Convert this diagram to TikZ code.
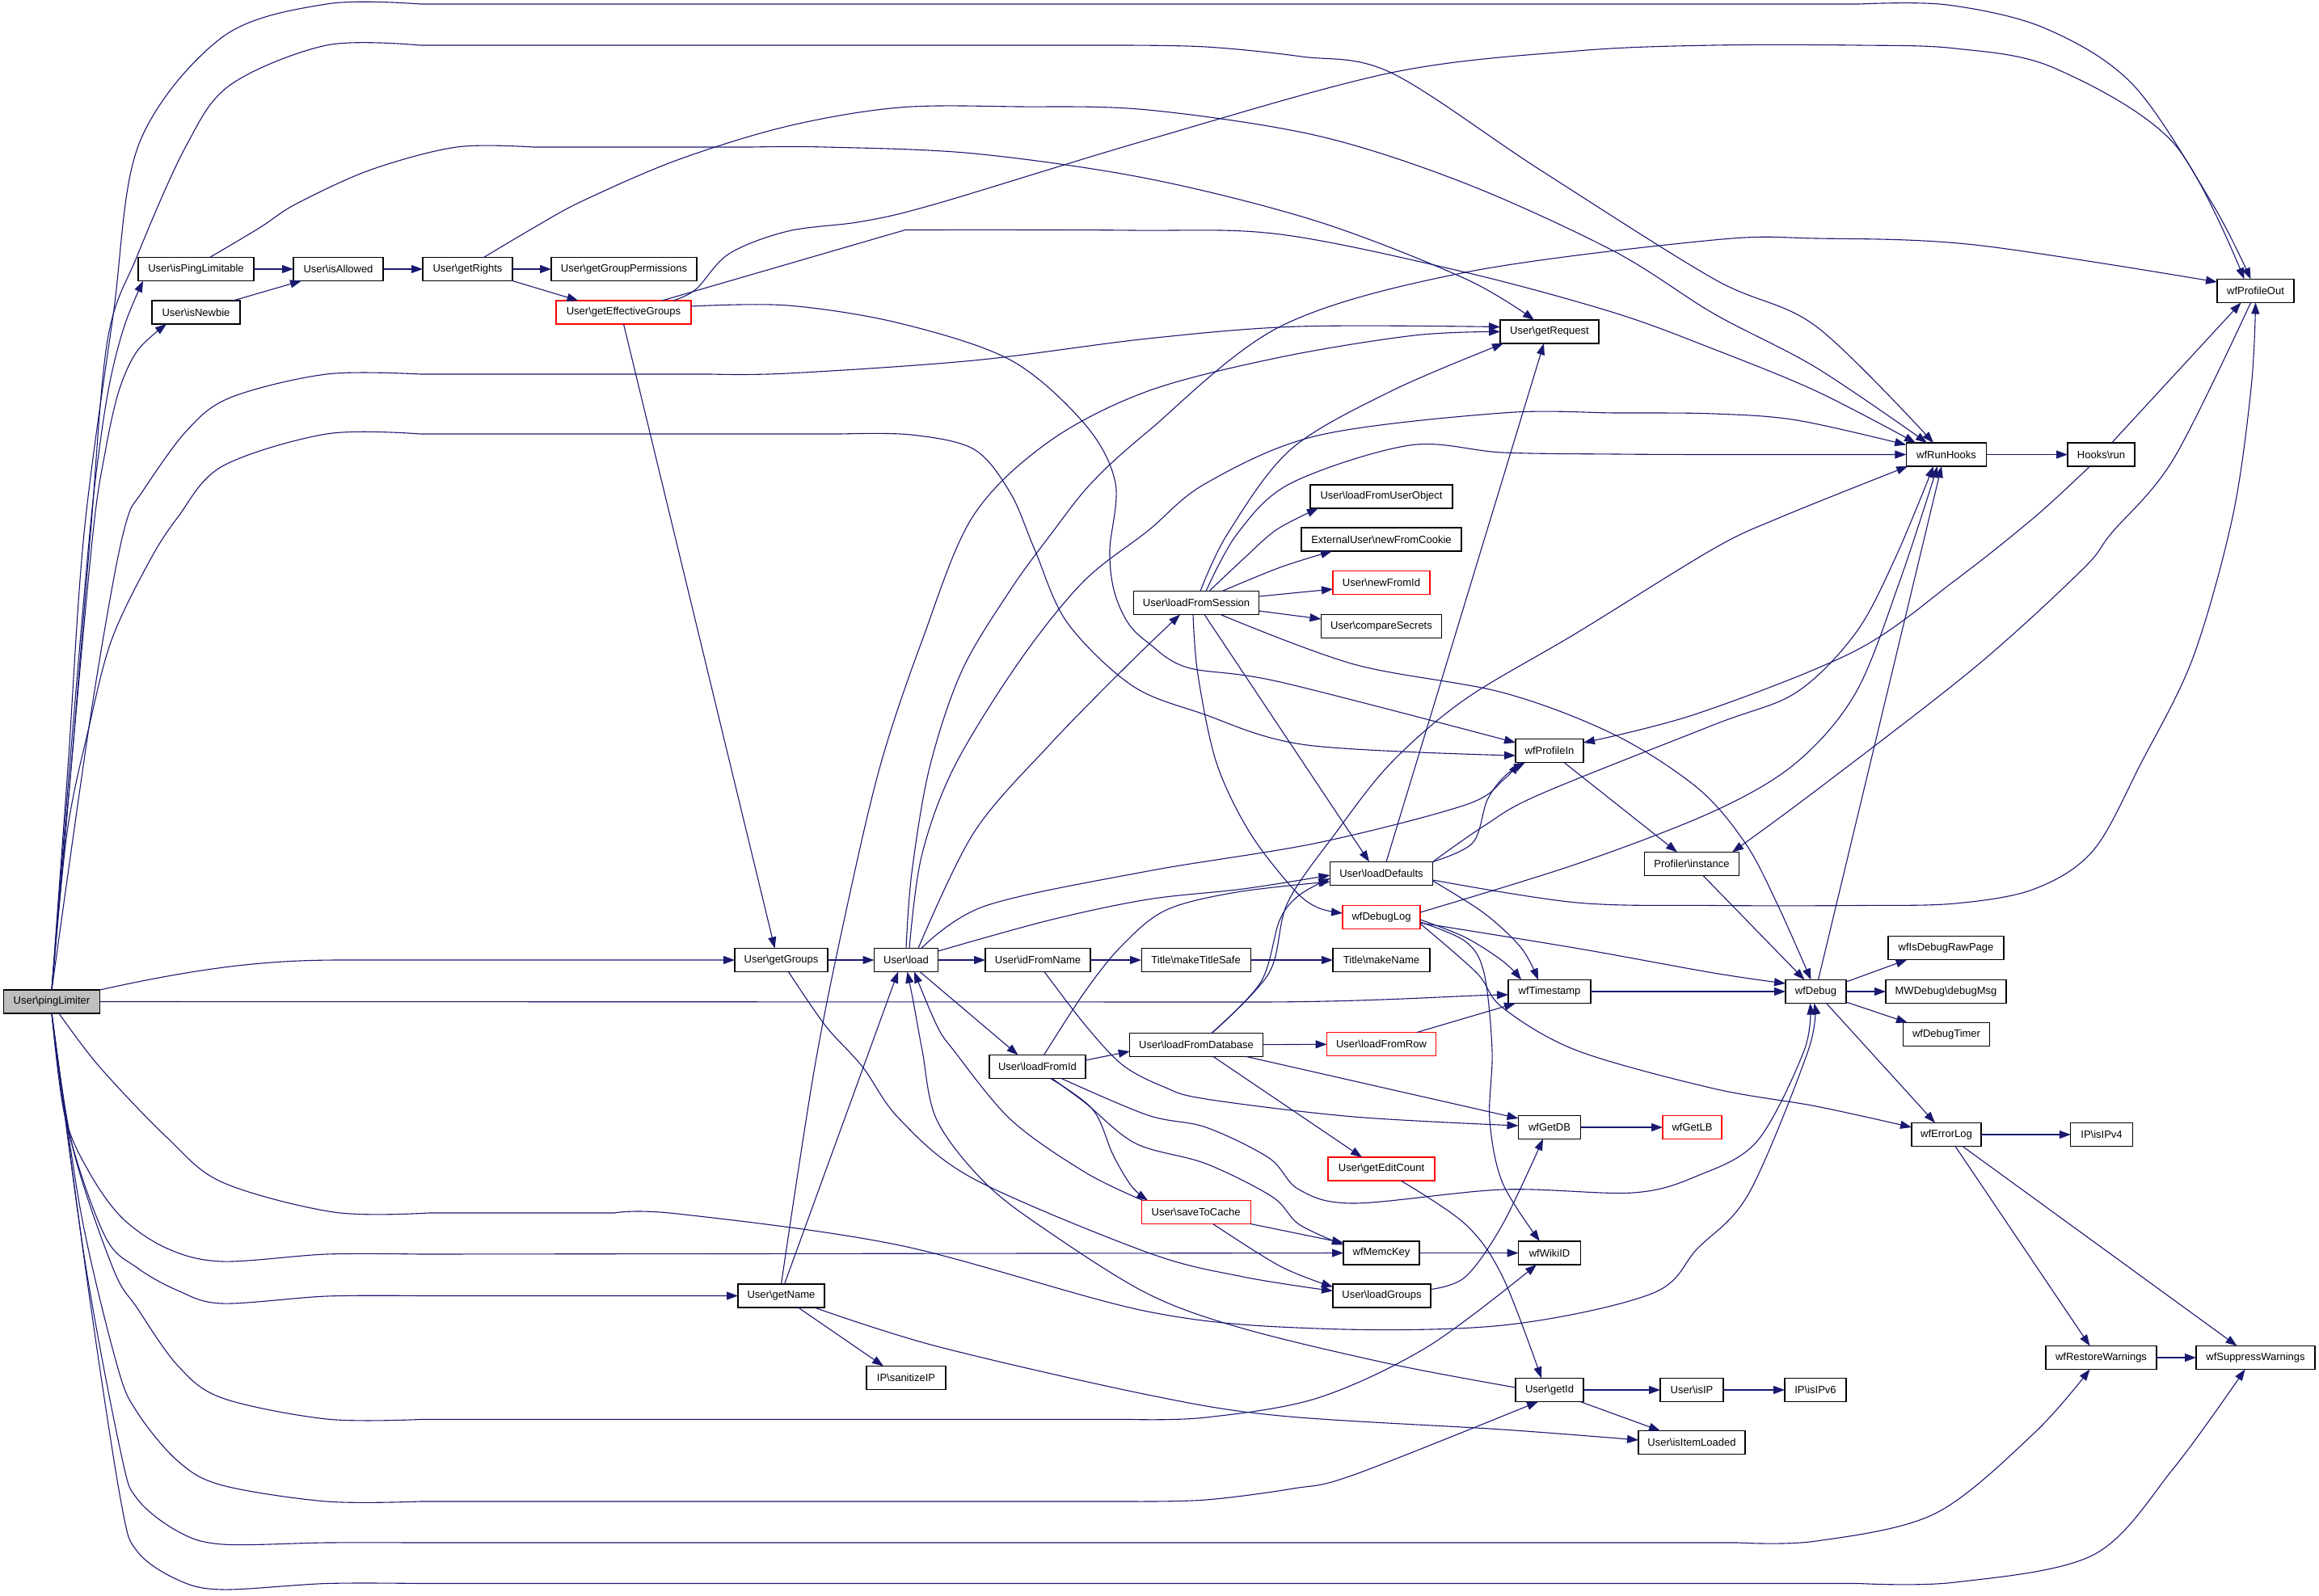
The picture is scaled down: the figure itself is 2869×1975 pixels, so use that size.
\documentclass[tikz,border=0pt]{standalone}
\usepackage{fontspec}
\setmainfont{Liberation Sans}
\usetikzlibrary{arrows.meta}
\definecolor{edgec}{HTML}{191970}
\definecolor{plgray}{HTML}{BFBFBF}
\newcommand{\bsl}{\textbackslash}
\begin{document}
\begin{tikzpicture}[x=0.5pt,y=-0.5pt,
  nd/.style={draw=black,fill=white,line width=0.6pt,minimum height=14.5pt,inner sep=0pt,outer sep=0pt,font=\fontsize{6.5pt}{7.5pt}\selectfont},
  rnd/.style={nd,draw=red},
  cn/.style={draw=edgec,line width=0.55pt,-{Triangle[length=7pt,width=5pt]}},
  sm/.style={smooth,tension=0.55}]
\useasboundingbox (0,0) rectangle (2869,1975);
\fill[white] (0,0) rectangle (2869,1975);
% nodes
\node[nd,fill=plgray,minimum width=59.25pt] (PL) at (64,1239.5) {User\bsl pingLimiter};
\node[nd,minimum width=71.5pt] (ipl) at (242.5,333) {User\bsl isPingLimitable};
\node[nd,minimum width=54.5pt] (inb) at (242.5,386.5) {User\bsl isNewbie};
\node[nd,minimum width=55.5pt] (ial) at (418.5,333) {User\bsl isAllowed};
\node[nd,minimum width=55.5pt] (gri) at (578.5,333) {User\bsl getRights};
\node[nd,minimum width=90pt] (ggp) at (772,333) {User\bsl getGroupPermissions};
\node[rnd,minimum width=83.5pt] (geg) at (771.5,386.5) {User\bsl getEffectiveGroups};
\node[nd,minimum width=61pt] (grq) at (1917,410.5) {User\bsl getRequest};
\node[nd,minimum width=88pt] (lfuo) at (1709,614.5) {User\bsl loadFromUserObject};
\node[nd,minimum width=99pt] (nfc) at (1709,667.5) {ExternalUser\bsl newFromCookie};
\node[rnd,minimum width=60pt] (nfi) at (1709,721) {User\bsl newFromId};
\node[nd,minimum width=77.75pt] (lfs) at (1480,746) {User\bsl loadFromSession};
\node[nd,minimum width=74.5pt] (cs) at (1709,775) {User\bsl compareSecrets};
\node[nd,minimum width=42pt] (wpi) at (1917,929) {wfProfileIn};
\node[nd,minimum width=58.25pt] (pin) at (2093,1069) {Profiler\bsl instance};
\node[nd,minimum width=63.5pt] (ld) at (1709,1081) {User\bsl loadDefaults};
\node[rnd,minimum width=48pt] (wdl) at (1709,1135) {wfDebugLog};
\node[nd,minimum width=67.5pt] (mts) at (1479.6,1188) {Title\bsl makeTitleSafe};
\node[nd,minimum width=60pt] (mn) at (1709,1188) {Title\bsl makeName};
\node[nd,minimum width=51pt] (wts) at (1917,1227) {wfTimestamp};
\node[nd,minimum width=82.25pt] (lfd) at (1480,1293) {User\bsl loadFromDatabase};
\node[rnd,minimum width=67.5pt] (lfr) at (1709,1292) {User\bsl loadFromRow};
\node[nd,minimum width=71.5pt] (wid) at (2407.5,1173) {wfIsDebugRawPage};
\node[nd,minimum width=74.5pt] (dm) at (2407.5,1227) {MWDebug\bsl debugMsg};
\node[nd,minimum width=53.5pt] (wdt) at (2408,1280) {wfDebugTimer};
\node[nd,minimum width=37.5pt] (wd) at (2246.5,1227) {wfDebug};
\node[nd,minimum width=47.5pt] (wpo) at (2790.5,360) {wfProfileOut};
\node[nd,minimum width=49.75pt] (wrh) at (2408,562.5) {wfRunHooks};
\node[nd,minimum width=41.5pt] (hr) at (2599.5,562.5) {Hooks\bsl run};
\node[nd,minimum width=57.5pt] (gg) at (966.5,1188) {User\bsl getGroups};
\node[nd,minimum width=39.5pt] (lo) at (1121,1188) {User\bsl load};
\node[nd,minimum width=65pt] (ifn) at (1284,1188) {User\bsl idFromName};
\node[nd,minimum width=59.5pt] (lfi) at (1283.5,1320) {User\bsl loadFromId};
\node[nd,minimum width=53.5pt] (gn) at (966.5,1603.5) {User\bsl getName};
\node[nd,minimum width=49pt] (sip) at (1121,1705) {IP\bsl sanitizeIP};
\node[nd,minimum width=38.5pt] (gdb) at (1917,1395) {wfGetDB};
\node[rnd,minimum width=36.5pt] (glb) at (2093.5,1395) {wfGetLB};
\node[rnd,minimum width=66pt] (gec) at (1709,1446.5) {User\bsl getEditCount};
\node[rnd,minimum width=67.5pt] (stc) at (1479.6,1500) {User\bsl saveToCache};
\node[nd,minimum width=47pt] (wmk) at (1709,1550.5) {wfMemcKey};
\node[nd,minimum width=38.5pt] (wwi) at (1917,1550.5) {wfWikiID};
\node[nd,minimum width=60.5pt] (lg) at (1709.5,1603.5) {User\bsl loadGroups};
\node[nd,minimum width=42pt] (gid) at (1917,1720) {User\bsl getId};
\node[nd,minimum width=39pt] (iip) at (2093,1720) {User\bsl isIP};
\node[nd,minimum width=66pt] (iil) at (2093,1785) {User\bsl isItemLoaded};
\node[nd,minimum width=43pt] (wel) at (2408,1404) {wfErrorLog};
\node[nd,minimum width=38.25pt] (ip4) at (2600,1404) {IP\bsl isIPv4};
\node[nd,minimum width=68.5pt] (wrw) at (2599.5,1680) {wfRestoreWarnings};
\node[nd,minimum width=73.5pt] (wsw) at (2790.5,1680) {wfSuppressWarnings};
\node[nd,minimum width=38pt] (ip6) at (2246,1720) {IP\bsl isIPv6};
% edges from pingLimiter
\draw[cn] plot[sm] coordinates {(PL.north) (84,950) (104,660) (140,390) (172,178) (275,46) (404,5) (520,5)} -- (2300,5) --plot[sm] coordinates {(2300,5) (2409,6) (2530,35) (2639,105) (2737,252) ([xshift=-3pt]wpo.north)};
\draw[cn] plot[sm] coordinates {(PL.north) (88,950) (112,660) (133,421) (170,316) (230,181) (285,105) (404,56) (520,56)} -- (1380,56) --plot[sm] coordinates {(1380,56) (1492,58) (1610,70) (1721,90) (1905,210) (2120,345) (2247,404) ([xshift=-8pt]wrh.north)};
\draw[cn] plot[sm] coordinates {(PL.north) (86,950) (111,660) (125,540) (138,463) (155,400) ([xshift=3pt]ipl.south west)};
\draw[cn] plot[sm] coordinates {(PL.north) (88,950) (115,660) (130,560) (147,484) (170,434) ([xshift=9pt]inb.south west)};
\draw[cn] plot[sm] coordinates {(PL.north) (110,900) (140,720) (158,640) (175,610) (230,534) (285,492) (404,463) (520,463)} -- (880,463) --plot[sm] coordinates {(880,463) (975,462) (1205,446) (1420,419) (1607,404) ([yshift=3pt]grq.west)};
\draw[cn] plot[sm] coordinates {(PL.north) (83,1030) (110,900) (138,792) (184,696) (220,640) (275,577) (404,537) (520,537)} -- (1040,537) --plot[sm] coordinates {(1040,537) (1127,538) (1205,556) (1250,610) (1280,680) (1320,770) (1400,848) (1487,883) (1617,922) ([yshift=-3pt]wpi.west)};
\draw[cn] (PL.north east) .. controls (250,1197) and (330,1188) .. (420,1188) -- (gg.west);
\draw[cn] (PL.east) -- (1550,1240) .. controls (1700,1240) and (1800,1232) .. ([yshift=-2pt]wts.west);
\draw[cn] plot[sm] coordinates {([xshift=4.5pt]PL.south) (123,1320) (206,1407) (275,1463) (413,1500) (530,1501)} -- (760,1501) --plot[sm] coordinates {(760,1501) (838,1502) (1113,1541) (1420,1623) (1630,1644) (1859,1640) (2043,1601) (2100,1545) (2164,1476) (2237,1300) ([xshift=-1pt]wd.south)};
\draw[cn] plot[sm] coordinates {(PL.south) (80,1380) (110,1450) (151,1507) (207,1545) (275,1561) (404,1552) (520,1552)} -- (wmk.west);
\draw[cn] plot[sm] coordinates {(PL.south) (85,1400) (130,1530) (170,1569) (220,1597) (275,1613) (404,1604) (520,1603.5)} -- (gn.west);
\draw[cn] plot[sm] coordinates {(PL.south) (90,1420) (140,1570) (170,1619) (220,1690) (275,1730) (404,1756) (520,1756.5)} -- (1400,1756.5) --plot[sm] coordinates {(1400,1756.5) (1492,1754) (1630,1730) (1767,1666) ([xshift=-8pt]wwi.south)};
\draw[cn] plot[sm] coordinates {(PL.south) (100,1500) (145,1690) (170,1748) (220,1808) (275,1838) (404,1858) (520,1858)} -- (1400,1858) --plot[sm] coordinates {(1400,1858) (1492,1856) (1600,1842) (1675,1825) ([xshift=-7pt]gid.south)};
\draw[cn] plot[sm] coordinates {(PL.south) (105,1560) (150,1800) (170,1855) (220,1895) (275,1911) (404,1909) (520,1909)} -- (2150,1909) --plot[sm] coordinates {(2150,1909) (2247,1907) (2394,1873) (2517,1773) ([xshift=-7pt]wrw.south)};
\draw[cn] plot[sm] coordinates {(PL.south) (110,1600) (150,1860) (170,1920) (220,1955) (275,1967) (404,1959.5) (520,1959.5)} -- (2300,1959.5) --plot[sm] coordinates {(2300,1959.5) (2419,1958) (2590,1924) (2689,1817) ([xshift=-6.5pt]wsw.south)};
% upper left group
\draw[cn] (ipl) -- (ial);
\draw[cn] plot[sm] coordinates {([xshift=8.5pt]ipl.north) (321,282) (367,252) (459,210) (565,182) (660,182)} -- (930,182) --plot[sm] coordinates {(930,182) (1021,182) (1205,190) (1420,221) (1630,274) (1813,345) ([xshift=-9.5pt]grq.north)};
\draw[cn] ([xshift=23pt]inb.north) -- ([xshift=5pt]ial.south west);
\draw[cn] (ial) -- (gri);
\draw[cn] (gri) -- (ggp);
\draw[cn] (gri.south east) -- ([xshift=-28pt]geg.north);
\draw[cn] plot[sm] coordinates {([xshift=10pt]gri.north) (660,282) (720,249) (838,198) (975,156) (1113,133) (1260,132) (1420,136) (1630,168) (1813,227) (1997,311) (2120,388) (2247,455) ([xshift=-12pt]wrh.north)};
\draw[cn] plot[sm] coordinates {([xshift=30.75pt]geg.north) (861,358) (902,314) (975,286) (1067,274) (1159,252) (1420,173) (1721,90) (1951,63) (2120,56) (2300,56) (2419,60) (2541,84) (2689,177) ([xshift=-7pt]wpo.north)};
\draw[cn] ([xshift=23.75pt]geg.north) -- (1120,284.5) --plot[sm] coordinates {(1120,284.5) (1400,285) (1584,290) (1813,337) (1997,387) (2120,432) (2247,484) ([xshift=-19pt]wrh.north)};
\draw[cn] (geg.south) -- ([xshift=-4pt]gg.north);
\draw[cn] plot[sm] coordinates {([yshift=3.75pt]geg.east) (975,378) (1113,400) (1251,446) (1343,526) (1380,598) (1373,680) (1378,730) (1395,770) (1420,795) (1469,826) (1584,844) ([yshift=5pt]wpi.west)};
% getGroups, getName, load
\draw[cn] (gg) -- (lo);
\draw[cn] plot[sm] coordinates {([xshift=4.5pt]gg.south) (1021,1269) (1067,1320) (1113,1385) (1205,1459) (1420,1550) (1538,1580) ([yshift=3pt]lg.west)};
\draw[cn] ([xshift=2pt]gn.north) -- ([xshift=-5pt]lo.south);
\draw[cn] plot[sm] coordinates {(gn.north) (1008,1320) (1049,1117) (1090,944) (1141,792) (1203,640) (1297,547) (1420,484) (1584,442) (1750,415) (grq.west)};
\draw[cn] ([xshift=10.5pt]gn.south) -- ([xshift=-14pt]sip.north);
\draw[cn] plot[sm] coordinates {([xshift=20.5pt]gn.south) (1159,1666) (1420,1726) (1584,1752) (1859,1769) ([yshift=1.5pt]iil.west)};
\draw[cn] (lo) -- (ifn);
\draw[cn] ([xshift=8.5pt]lo.south) -- ([xshift=-12pt]lfi.north);
\draw[cn] plot[sm] coordinates {([xshift=7.5pt]lo.north) (1205,1030) (1300,920) (1400,818) ([xshift=-10pt]lfs.south)};
\draw[cn] plot[sm] coordinates {([xshift=9.5pt]lo.north) (1219,1121) (1420,1078) (1630,1043) (1813,996) (1860,965) ([xshift=-19pt]wpi.south)};
\draw[cn] plot[sm] coordinates {([yshift=5.5pt]lo.east) (1297,1139) (1420,1113) (1538,1100) ([yshift=-1pt]ld.west)};
\draw[cn] plot[sm] coordinates {([xshift=2pt]lo.north) (1140,1060) (1180,950) (1260,820) (1340,720) (1420,657) (1492,598) (1630,539) (1859,511) (2000,511) (2120,512) (2223,520) ([yshift=6pt]wrh.west)};
\draw[cn] plot[sm] coordinates {(lo.north) (1128,1080) (1150,950) (1190,830) (1250,730) (1301,660) (1350,598) (1420,534) (1584,404) (1813,337) (2120,297) (2247,295) (2443,303) ([yshift=5.5pt]wpo.west)};
\draw[cn] (ifn) -- (mts);
\draw[cn] plot[sm] coordinates {([xshift=4pt]ifn.south) (1343,1269) (1389,1318) (1440,1345) (1492,1360) (1675,1382) ([yshift=1pt]gdb.west)};
\draw[cn] (mts) -- (mn);
% loadFromId
\draw[cn] ([yshift=4pt]lfi.east) -- ([yshift=-4pt]lfd.west);
\draw[cn] plot[sm] coordinates {([xshift=4pt]lfi.north) (1343,1226) (1389,1169) (1443,1126) (1530,1104) ([yshift=-5pt]ld.west)};
\draw[cn] plot[sm] coordinates {([xshift=8pt]lfi.south) (1352,1373) (1377,1429) (1400,1468) ([xshift=4pt]stc.north west)};
\draw[cn] plot[sm] coordinates {([xshift=9pt]lfi.south) (1343,1365) (1405,1415) (1492,1440) (1574,1481) (1607,1515) ([yshift=5pt]wmk.west)};
\draw[cn] plot[sm] coordinates {([xshift=14.75pt]lfi.south) (1420,1380) (1492,1395) (1570,1433) (1607,1472) (1675,1489) (1859,1472) (2020,1476) (2100,1455) (2174,1412) (2232,1300) ([xshift=-3.5pt]wd.south)};
% loadFromSession
\draw[cn] plot[sm] coordinates {([xshift=8pt]lfs.north) (1540,690) (1580,655) ([xshift=-39pt]lfuo.south)};
\draw[cn] plot[sm] coordinates {([xshift=16pt]lfs.north) (1584,702) ([xshift=-30.5pt]nfc.south)};
\draw[cn] ([yshift=4pt]lfs.east) -- ([yshift=-4pt]nfi.west);
\draw[cn] ([yshift=-5pt]lfs.east) -- ([yshift=4.5pt]cs.west);
\draw[cn] plot[sm] coordinates {([xshift=2.5pt]lfs.north) (1519,660) (1597,556) (1721,484) ([xshift=2pt]grq.south west)};
\draw[cn] plot[sm] coordinates {([xshift=6pt]lfs.north) (1531,660) (1597,598) (1744,551) (1859,560) (2000,562) (2120,562.5) (wrh.west)};
\draw[cn] ([xshift=5pt]lfs.south) -- ([xshift=-7.5pt]ld.north);
\draw[cn] plot[sm] coordinates {([xshift=-2pt]lfs.south) (1482,835) (1505,944) (1546,1030) (1600,1100) (1630,1123) ([yshift=2.5pt]wdl.west)};
\draw[cn] plot[sm] coordinates {([xshift=15pt]lfs.south) (1675,822) (1859,857) (1997,909) (2100,975) (2159,1043) (2198,1117) ([xshift=-3pt]wd.north)};
% loadDefaults
\draw[cn] ([xshift=3pt]ld.north) -- ([xshift=-3.5pt]grq.south);
\draw[cn] plot[sm] coordinates {(ld.north east) (1822,1043) (1840,990) (1862,960) ([xshift=-15pt]wpi.south)};
\draw[cn] plot[sm] coordinates {(ld.north east) (1836,1022) (1905,983) (2120,897) (2222,857) (2296,783) (2345,690) ([xshift=-8pt]wrh.south)};
\draw[cn] plot[sm] coordinates {([yshift=-4pt]ld.east) (1951,1117) (2120,1120.5) (2300,1120.5) (2419,1118) (2517,1100) (2590,1052) (2649,944) (2713,814) (2762,640) (2785,480) (wpo.south)};
\draw[cn] plot[sm] coordinates {([yshift=-4.5pt]ld.east) (1836,1130) (1882,1173) ([xshift=-7pt]wts.north)};
% wfDebugLog
\draw[cn] plot[sm] coordinates {([yshift=3pt]wdl.east) (1951,1069) (2120,1004) (2222,944) (2296,857) (2350,720) ([xshift=-5.5pt]wrh.south)};
\draw[cn] plot[sm] coordinates {([yshift=-1.5pt]wdl.east) (1813,1160) (1860,1190) ([xshift=-17.5pt]wts.north)};
\draw[cn] plot[sm] coordinates {([yshift=-3pt]wdl.east) (1813,1165) (1836,1204) (1846,1300) (1843,1386) (1859,1464) ([xshift=-6pt]wwi.north)};
\draw[cn] plot[sm] coordinates {([yshift=-3.5pt]wdl.east) (1951,1173.5) (2120,1204) ([yshift=5pt]wd.west)};
\draw[cn] plot[sm] coordinates {([yshift=-4pt]wdl.east) (1827,1204) (1859,1247) (1951,1300) (2120,1347) (2247,1369) ([yshift=4.5pt]wel.west)};
% loadFromDatabase
\draw[cn] plot[sm] coordinates {([xshift=9.5pt]lfd.north) (1570,1204) (1593,1117) (1653,1030) (1721,944) (1813,865) (1951,783) (2120,679) (2203,640) ([xshift=1pt]wrh.south west)};
\draw[cn] plot[sm] coordinates {([xshift=9.5pt]lfd.north) (1560,1215) (1583,1139) (1607,1108) ([yshift=-3pt]ld.west)};
\draw[cn] (lfd) -- (lfr);
\draw[cn] ([xshift=10.5pt]lfd.south) -- ([xshift=-12pt]gec.north);
\draw[cn] ([xshift=31pt]lfd.south) -- ([yshift=5.5pt]gdb.west);
\draw[cn] ([xshift=22pt]lfr.north) -- ([xshift=-21pt]wts.south);
% lower middle
\draw[cn] plot[sm] coordinates {([xshift=12pt]gec.south) (1813,1515) (1859,1580) ([xshift=-5pt]gid.north)};
\draw[cn] (stc.south east) -- ([yshift=-1pt]wmk.north west);
\draw[cn] plot[sm] coordinates {([xshift=10.5pt]stc.south) (1584,1567) ([yshift=5.5pt]lg.west)};
\draw[cn] plot[sm] coordinates {([xshift=1pt]stc.north west) (1343,1451) (1251,1386) (1180,1300) (1159,1269) ([xshift=5pt]lo.south)};
\draw[cn] plot[sm] coordinates {([yshift=1.5pt]gid.west) (1721,1688) (1538,1644) (1420,1601) (1297,1524) (1219,1464) (1159,1386) (1141,1300) (1130,1240) ([xshift=0.75pt]lo.south)};
\draw[cn] plot[sm] coordinates {([yshift=4pt]lg.east) (1813,1580) (1859,1515) ([xshift=-4pt]gdb.south)};
\draw[cn] (wmk) -- (wwi);
\draw[cn] (gdb) -- (glb);
\draw[cn] (gid) -- (iip);
\draw[cn] ([xshift=19pt]gid.south) -- ([xshift=-19.5pt]iil.north);
\draw[cn] (iip) -- (ip6);
% right part
\draw[cn] ([yshift=6pt]wd.east) -- ([xshift=-24pt]wid.south);
\draw[cn] (wd) -- (dm);
\draw[cn] ([yshift=-6.5pt]wd.east) -- ([xshift=-24pt]wdt.north);
\draw[cn] ([xshift=1.5pt]wd.north) -- ([xshift=-3pt]wrh.south);
\draw[cn] ([xshift=6.5pt]wd.south) -- ([xshift=-7pt]wel.north);
\draw[cn] (wts) -- (wd);
\draw[cn] ([xshift=7pt]pin.south) -- ([xshift=-7pt]wd.north);
\draw[cn] ([xshift=9pt]wpi.south) -- ([xshift=-9pt]pin.north);
\draw[cn] plot[sm] coordinates {([xshift=-3pt]wpo.south) (2689,568) (2612,660) (2576,705) (2443,826) (2247,978) ([xshift=25pt]pin.north)};
\draw[cn] ([xshift=6.5pt]hr.north) -- ([xshift=-9pt]wpo.south);
\draw[cn] plot[sm] coordinates {([xshift=-7pt]hr.south) (2517,640) (2419,718) (2296,805) (2100,883) ([yshift=5pt]wpi.east)};
\draw[cn] (wrh) -- (hr);
\draw[cn] (wel) -- (ip4);
\draw[cn] ([xshift=5.5pt]wel.south) -- ([xshift=-7pt]wrw.north);
\draw[cn] ([xshift=10pt]wel.south) -- ([xshift=-11.5pt]wsw.north);
\draw[cn] (wrw) -- (wsw);
\end{tikzpicture}
\end{document}
